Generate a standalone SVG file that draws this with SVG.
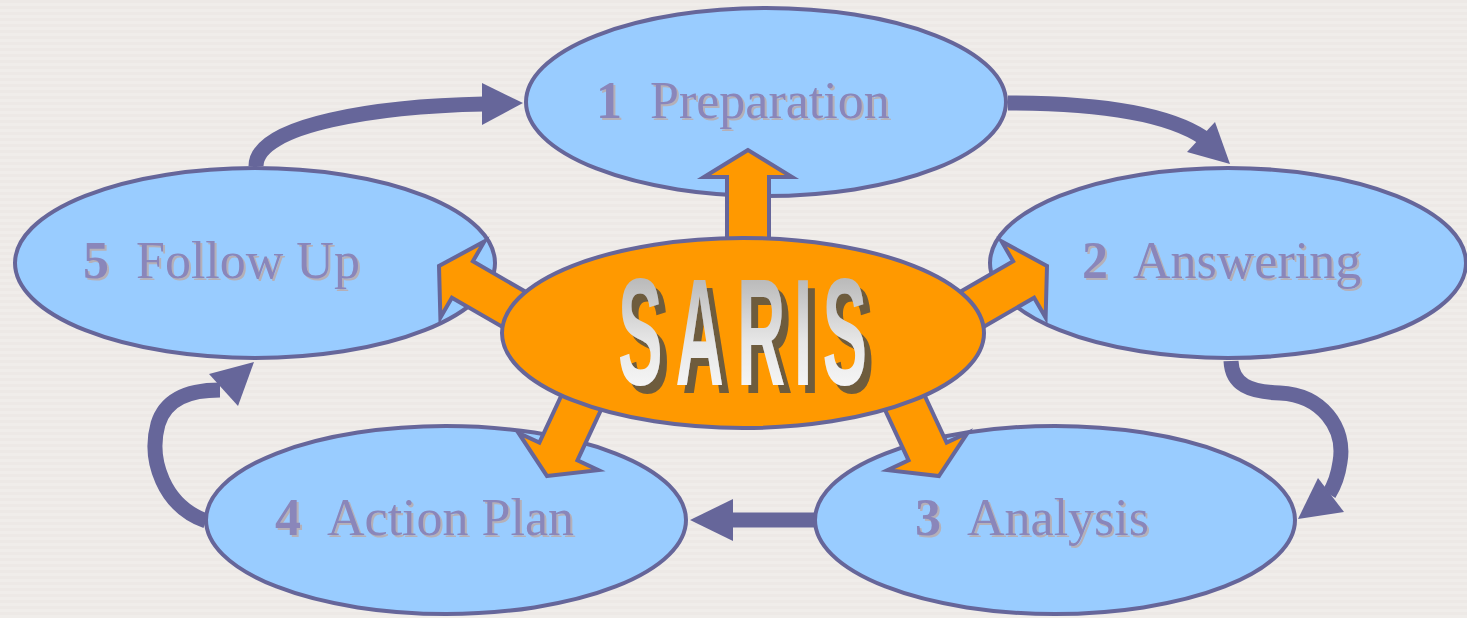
<svg xmlns="http://www.w3.org/2000/svg" width="1467" height="618" viewBox="0 0 1467 618">
  <defs>
    <pattern id="stripes" width="8" height="6" patternUnits="userSpaceOnUse">
      <rect width="8" height="6" fill="#EDE9E6"/>
      <rect y="3" width="8" height="3" fill="#F0EDEA"/>
    </pattern>
    <linearGradient id="sarisFill" x1="0" y1="0" x2="0" y2="1">
      <stop offset="0" stop-color="#A4A4A4"/>
      <stop offset="0.55" stop-color="#E6E6E6"/>
      <stop offset="1" stop-color="#FFFFFF"/>
    </linearGradient>
    <!-- drop shadow for the stage labels -->
    <filter id="labelShadow" x="-5%" y="-20%" width="110%" height="140%">
      <feOffset in="SourceAlpha" dx="2" dy="2" result="off"/>
      <feFlood flood-color="#B5B0B8"/>
      <feComposite in2="off" operator="in" result="shade"/>
      <feMerge><feMergeNode in="shade"/><feMergeNode in="SourceGraphic"/></feMerge>
    </filter>
    <!-- drop shadow for the hub title (applied in the scaled space) -->
    <filter id="titleShadow" x="-10%" y="-20%" width="130%" height="150%" filterUnits="objectBoundingBox">
      <feOffset in="SourceAlpha" dx="15" dy="8" result="off"/>
      <feFlood flood-color="#6E5B3C"/>
      <feComposite in2="off" operator="in" result="shade"/>
      <feMerge><feMergeNode in="shade"/><feMergeNode in="SourceGraphic"/></feMerge>
    </filter>
    <!-- block arrow pointing along +x, tip at origin -->
    <polygon id="blockArrow" points="0,0 -27,-44 -27,-21 -130,-21 -130,21 -27,21 -27,44"/>
  </defs>
  <style>
    .stage { fill: #99CCFF; stroke: #66669A; stroke-width: 4; }
    .hub { fill: #FF9900; stroke: #66669A; stroke-width: 4; }
    .spoke { fill: #FF9900; stroke: #66669A; stroke-width: 4; stroke-linejoin: miter; }
    .flow { fill: none; stroke: #66669A; stroke-width: 15; }
    .head { fill: #66669A; }
    .label { font-family: "Liberation Serif", "Times New Roman", serif; font-size: 52px; fill: #8A86BA; filter: url(#labelShadow); }
    .label .num { font-weight: bold; }
    .saris { font-family: "Liberation Sans", Arial, sans-serif; font-weight: bold; font-size: 152px; text-anchor: middle; }
  </style>

  <rect width="1467" height="618" fill="url(#stripes)"/>

  <!-- cycle connectors -->
  <g id="connectors">
    <path class="flow" d="M256,166 C256,124 380,106 484,104"/>
    <polygon class="head" points="482,83 523,103 482,125"/>

    <path class="flow" d="M1008,103 C1090,103 1165,112 1204,138"/>
    <polygon class="head" points="1215,122 1230,164 1187,152"/>

    <path class="flow" d="M1231,361 C1232,385 1250,392 1280,393 C1322,395 1346,428 1340,462 C1338,476 1334,486 1329,494"/>
    <polygon class="head" points="1318,478 1344,512 1298,519"/>

    <path class="flow" d="M817,520 L730,520"/>
    <polygon class="head" points="733,499 690,520 733,541"/>

    <path class="flow" d="M206,521 C164,506 148,460 158,424 C166,398 190,390 220,390"/>
    <polygon class="head" points="209,374 254,362 238,406"/>
  </g>

  <!-- stage ellipses -->
  <g id="stage1"><ellipse class="stage" cx="766" cy="102" rx="240" ry="94"/></g>
  <g id="stage2"><ellipse class="stage" cx="1228" cy="263" rx="238" ry="95"/></g>
  <g id="stage3"><ellipse class="stage" cx="1055" cy="520" rx="240" ry="94"/></g>
  <g id="stage4"><ellipse class="stage" cx="446" cy="520" rx="240" ry="94"/></g>
  <g id="stage5"><ellipse class="stage" cx="255" cy="263" rx="240" ry="95"/></g>

  <!-- orange spokes from the hub -->
  <g id="spokes">
    <use href="#blockArrow" class="spoke" transform="translate(748,150) rotate(-90)"/>
    <use href="#blockArrow" class="spoke" transform="translate(439,266) rotate(210)"/>
    <use href="#blockArrow" class="spoke" transform="translate(1047,266) rotate(-30)"/>
    <use href="#blockArrow" class="spoke" transform="translate(547,476) rotate(115)"/>
    <use href="#blockArrow" class="spoke" transform="translate(939,476) rotate(65)"/>
  </g>

  <!-- hub -->
  <g id="hub">
    <ellipse class="hub" cx="743" cy="333" rx="241" ry="95"/>
    <g transform="scale(0.44,1)">
      <text class="saris" fill="url(#sarisFill)" filter="url(#titleShadow)" x="1455 1590 1730 1825 1920" y="385">SARIS</text>
    </g>
  </g>

  <!-- stage labels -->
  <g id="label1">
    <text class="label" y="118"><tspan class="num" x="596">1</tspan><tspan x="650">Preparation</tspan></text>
  </g>
  <g id="label2">
    <text class="label" y="278"><tspan class="num" x="1082">2</tspan><tspan x="1133">Answering</tspan></text>
  </g>
  <g id="label3">
    <text class="label" y="535"><tspan class="num" x="915">3</tspan><tspan x="967">Analysis</tspan></text>
  </g>
  <g id="label4">
    <text class="label" y="535"><tspan class="num" x="275">4</tspan><tspan x="327">Action Plan</tspan></text>
  </g>
  <g id="label5">
    <text class="label" y="278"><tspan class="num" x="83">5</tspan><tspan x="136">Follow Up</tspan></text>
  </g>
</svg>
